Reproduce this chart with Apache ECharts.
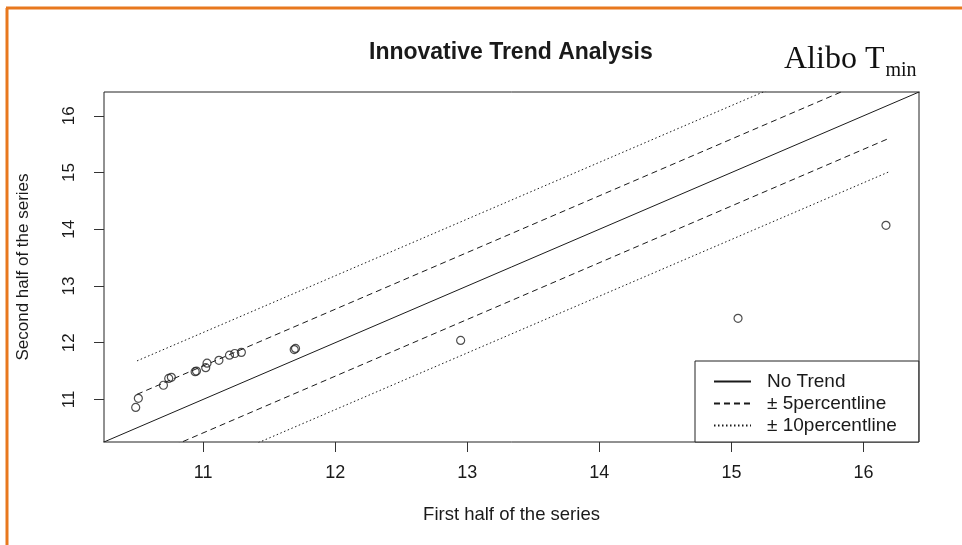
<!DOCTYPE html>
<html>
<head>
<meta charset="utf-8">
<title>Innovative Trend Analysis</title>
<script src="https://cdn.jsdelivr.net/npm/echarts@6/dist/echarts.min.js"></script>
<style>
  html, body { margin: 0; padding: 0; background: #fff; }
  #chart { width: 962px; height: 545px; }
</style>
</head>
<body>
<div id="chart"></div>
<script>
// First half vs. second half of the sorted series (Alibo, Tmin)
const firstHalf  = [10.49, 10.51, 10.70, 10.74, 10.76, 10.94, 10.95, 11.02, 11.03, 11.12, 11.20, 11.24, 11.29, 11.69, 11.70, 12.95, 15.05, 16.17];
const secondHalf = [10.86, 11.02, 11.25, 11.37, 11.39, 11.49, 11.50, 11.56, 11.64, 11.69, 11.78, 11.81, 11.83, 11.88, 11.90, 12.04, 12.43, 14.07];

// Axis extent and tick labels
const axisRange = [10.25, 16.42];
const tickLabels = [11, 12, 13, 14, 15, 16];

// Reference lines: 1:1 line and the ±5 / ±10 percent bands
const noTrendX = [10.0, 17.0];
const bandX = [10.5, 16.2];
const band5 = 0.59;
const band10 = 1.18;

const legendNames = ['No Trend', '± 5percentline', '± 10percentline'];

const pts = firstHalf.map((x, i) => [x, secondHalf[i]]);
const lineThrough = (xs, off) => xs.map(x => [x, x + off]);

const font = 'Liberation Sans, Arial, Helvetica, sans-serif';
const serif = 'Liberation Serif, Times New Roman, serif';
const ink = '#1a1a1a';

const chart = echarts.init(document.getElementById('chart'), null, { renderer: 'canvas' });

const refLine = (name, data, type) => ({
  name: name,
  type: 'line',
  data: data,
  symbol: 'none',
  showSymbol: false,
  clip: true,
  silent: true,
  color: ink,
  itemStyle: { color: ink },
  lineStyle: { color: ink, width: 1, type: type },
  z: 2
});

const axisCommon = {
  type: 'value',
  min: axisRange[0],
  max: axisRange[1],
  axisLine: { show: false },
  splitLine: { show: false },
  axisTick: { show: true, inside: false, length: 10, customValues: tickLabels, lineStyle: { color: '#333', width: 1 } },
  nameLocation: 'middle'
};

chart.setOption({
  backgroundColor: '#ffffff',
  animation: false,
  title: {
    text: 'Innovative Trend Analysis',
    left: 364,
    top: 36,
    textStyle: { fontFamily: font, fontSize: 23, fontWeight: 'bold', color: ink }
  },
  grid: {
    left: 104, right: 43, top: 92, bottom: 103,
    show: true, borderColor: '#222', borderWidth: 1, backgroundColor: 'transparent'
  },
  xAxis: Object.assign({}, axisCommon, {
    name: 'First half of the series',
    nameGap: 63,
    nameTextStyle: { fontFamily: font, fontSize: 18.5, color: ink },
    axisLabel: { customValues: tickLabels, margin: 22, fontFamily: font, fontSize: 18, color: ink }
  }),
  yAxis: Object.assign({}, axisCommon, {
    name: 'Second half of the series',
    nameGap: 72,
    nameTextStyle: { fontFamily: font, fontSize: 17, color: ink },
    axisLabel: { customValues: tickLabels, margin: 26, rotate: 90, fontFamily: font, fontSize: 17, color: ink }
  }),
  legend: {
    data: legendNames,
    orient: 'vertical',
    left: 695,
    top: 361,
    itemWidth: 37,
    itemHeight: 14,
    itemGap: 3,
    padding: [11, 22, 7, 18],
    backgroundColor: '#ffffff',
    borderColor: '#222',
    borderWidth: 1,
    borderRadius: 0,
    selectedMode: false,
    itemStyle: { opacity: 0 },
    textStyle: { fontFamily: font, fontSize: 19, lineHeight: 18.5, color: ink, padding: [0, 0, 0, 11] }
  },
  graphic: [
    { type: 'line', shape: { x1: 7, y1: 8, x2: 7, y2: 545 }, style: { stroke: '#E8781E', lineWidth: 3 }, z: 10 },
    { type: 'line', shape: { x1: 6, y1: 8, x2: 962, y2: 8 }, style: { stroke: '#E8781E', lineWidth: 3 }, z: 10 },
    {
      type: 'text', left: 784, top: 44, z: 10,
      style: {
        text: '{a|Alibo T}{b|min}',
        rich: {
          a: { fontFamily: serif, fontSize: 32, fill: '#111', verticalAlign: 'bottom' },
          b: { fontFamily: serif, fontSize: 20, fill: '#111', verticalAlign: 'bottom', padding: [0, 0, -5, 1] }
        }
      }
    }
  ],
  series: [
    refLine(legendNames[0], noTrendX.map(x => [x, x]), 'solid'),
    refLine(legendNames[1], lineThrough(bandX, band5), [6, 4]),
    refLine(legendNames[1], lineThrough(bandX, -band5), [6, 4]),
    refLine(legendNames[2], lineThrough(bandX, band10), [1.5, 2.5]),
    refLine(legendNames[2], lineThrough(bandX, -band10), [1.5, 2.5]),
    {
      name: 'points',
      type: 'scatter',
      data: pts,
      symbol: 'circle',
      symbolSize: 8,
      itemStyle: { color: 'rgba(0,0,0,0)', borderColor: '#222', borderWidth: 1.2 },
      silent: true,
      z: 3
    }
  ]
});
</script>
</body>
</html>
